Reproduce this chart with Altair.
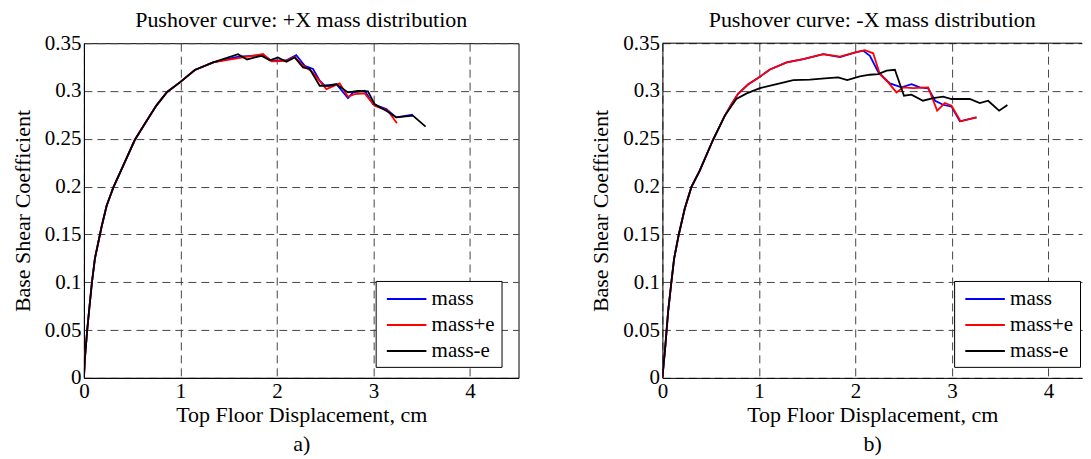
import altair as alt
import pandas as pd

SERIES = ["mass", "mass+e", "mass-e"]
COLORS = ["#0000ff", "#ff0000", "#000000"]
FONT = "Liberation Serif"

# ---- panel a) : +X mass distribution ----
a_mass_x = [0, 0.01, 0.034, 0.055, 0.083, 0.114, 0.183, 0.235, 0.304, 0.407, 0.528, 0.683, 0.752, 0.862,
            0.994, 1.149, 1.339, 1.6, 1.856, 1.943, 2.098, 2.2, 2.288, 2.374, 2.443, 2.495, 2.616, 2.736,
            2.788, 2.909, 2.995, 3.133, 3.236, 3.409]
a_mass_y = [0, 0.020, 0.050, 0.072, 0.100, 0.125, 0.158, 0.180, 0.199, 0.222, 0.249, 0.274, 0.285, 0.299,
            0.309, 0.322, 0.330, 0.336, 0.3375, 0.332, 0.332, 0.3375, 0.3264, 0.323, 0.3107, 0.3055, 0.307,
            0.2926, 0.2985, 0.3003, 0.2863, 0.2811, 0.2724, 0.2752]

a_pe_x = [0, 0.01, 0.034, 0.055, 0.083, 0.114, 0.183, 0.235, 0.304, 0.407, 0.528, 0.683, 0.752, 0.862,
          0.994, 1.149, 1.339, 1.615, 1.856, 1.943, 2.098, 2.184, 2.27, 2.356, 2.512, 2.65, 2.736, 2.805,
          2.909, 3.012, 3.15, 3.243]
a_pe_y = [0, 0.020, 0.050, 0.072, 0.100, 0.125, 0.158, 0.180, 0.199, 0.222, 0.249, 0.274, 0.285, 0.299,
          0.309, 0.322, 0.330, 0.3346, 0.3386, 0.331, 0.3316, 0.3357, 0.3264, 0.321, 0.302, 0.308, 0.294,
          0.2968, 0.2975, 0.2846, 0.2794, 0.2662]

a_me_x = [0, 0.01, 0.034, 0.055, 0.083, 0.114, 0.183, 0.235, 0.304, 0.407, 0.528, 0.683, 0.752, 0.862,
          0.994, 1.149, 1.339, 1.597, 1.69, 1.84, 1.925, 2.01, 2.098, 2.184, 2.27, 2.34, 2.443, 2.547,
          2.616, 2.736, 2.84, 2.943, 3.012, 3.064, 3.133, 3.236, 3.409, 3.54]
a_me_y = [0, 0.020, 0.050, 0.072, 0.100, 0.125, 0.158, 0.180, 0.199, 0.222, 0.249, 0.274, 0.285, 0.299,
          0.309, 0.322, 0.330, 0.3385, 0.333, 0.3368, 0.332, 0.3351, 0.3305, 0.3351, 0.3246, 0.323, 0.3055,
          0.3055, 0.3072, 0.2985, 0.300, 0.2996, 0.2863, 0.2829, 0.2794, 0.2724, 0.2742, 0.2627]

# ---- panel b) : -X mass distribution ----
b_mass_x = [0, 0.031, 0.059, 0.093, 0.121, 0.17, 0.232, 0.30, 0.387, 0.525, 0.646, 0.72, 0.784, 0.89,
            1.011, 1.115, 1.288, 1.46, 1.667, 1.84, 2.0, 2.08, 2.15, 2.236, 2.357, 2.478, 2.581, 2.668,
            2.754, 2.826, 2.909, 2.996, 3.082, 3.255]
b_mass_y = [0, 0.034, 0.069, 0.100, 0.1245, 0.150, 0.177, 0.1994, 0.2167, 0.249, 0.274, 0.287, 0.297,
            0.307, 0.315, 0.3225, 0.330, 0.3333, 0.3386, 0.3355, 0.3403, 0.3422, 0.3368, 0.320, 0.3079,
            0.3038, 0.3072, 0.3038, 0.3028, 0.2898, 0.2856, 0.2836, 0.2683, 0.2724]

b_pe_x = [0, 0.031, 0.059, 0.093, 0.121, 0.17, 0.232, 0.30, 0.387, 0.525, 0.646, 0.72, 0.784, 0.89,
          1.011, 1.115, 1.288, 1.46, 1.667, 1.84, 2.0, 2.098, 2.184, 2.254, 2.339, 2.426, 2.495, 2.598,
          2.754, 2.847, 2.927, 2.996, 3.089, 3.255]
b_pe_y = [0, 0.034, 0.069, 0.100, 0.1245, 0.150, 0.177, 0.1994, 0.2167, 0.249, 0.274, 0.287, 0.297,
          0.307, 0.315, 0.3225, 0.330, 0.3333, 0.3386, 0.336, 0.3403, 0.3427, 0.3394, 0.3176, 0.309,
          0.2985, 0.3038, 0.303, 0.3038, 0.2794, 0.2874, 0.2846, 0.2683, 0.2724]

b_me_x = [0, 0.031, 0.059, 0.093, 0.121, 0.17, 0.232, 0.30, 0.387, 0.525, 0.646, 0.766, 0.874, 1.011,
          1.184, 1.356, 1.529, 1.684, 1.822, 1.915, 2.046, 2.15, 2.236, 2.323, 2.409, 2.503, 2.581, 2.70,
          2.805, 2.909, 2.996, 3.185, 3.289, 3.375, 3.489, 3.575]
b_me_y = [0, 0.034, 0.069, 0.100, 0.1245, 0.150, 0.177, 0.1994, 0.2167, 0.249, 0.274, 0.2916, 0.2975,
          0.303, 0.3072, 0.3114, 0.3118, 0.3132, 0.3142, 0.3114, 0.3152, 0.317, 0.3176, 0.3212, 0.3222,
          0.2951, 0.2961, 0.2898, 0.2926, 0.294, 0.2916, 0.2916, 0.2874, 0.2898, 0.2794, 0.2853]

X_TICKS = [0, 1, 2, 3, 4]
Y_TICKS = [0, 0.05, 0.1, 0.15, 0.2, 0.25, 0.3, 0.35]

PX_PER_UNIT = 96.6   # horizontal scale of both panels
PLOT_H = 335


def make_df(pairs):
    rows = []
    for name, xs, ys in pairs:
        for i, (xv, yv) in enumerate(zip(xs, ys)):
            rows.append({"series": name, "x": xv, "y": yv, "i": i})
    return pd.DataFrame(rows)


def panel(df, title, label, width, open_right):
    xmax = width / PX_PER_UNIT
    color = alt.Color(
        "series:N",
        scale=alt.Scale(domain=SERIES, range=COLORS),
        legend=alt.Legend(
            title=None, orient="none", legendX=292, legendY=238,
            symbolType="M-1.8,0H1.8", symbolSize=484, symbolStrokeWidth=2,
            symbolOffset=13,
            labelFont=FONT, labelFontSize=21, labelColor="black", labelOffset=13,
            padding=6, rowPadding=4, strokeColor="black", fillColor="white",
            cornerRadius=0,
        ),
    )
    x = alt.X(
        "x:Q",
        scale=alt.Scale(domain=[0, xmax], nice=False, zero=False),
        axis=alt.Axis(
            values=X_TICKS, format="d", title=["Top Floor Displacement, cm", label],
            titleLineHeight=29, titlePadding=3,
        ),
    )
    y = alt.Y(
        "y:Q",
        scale=alt.Scale(domain=[0, 0.35], nice=False),
        axis=alt.Axis(values=Y_TICKS, format="~g", title="Base Shear Coefficient",
                      titlePadding=10),
    )
    layers = []
    for s in SERIES:
        layers.append(
            alt.Chart(df)
            .transform_filter(alt.datum.series == s)
            .mark_line(strokeWidth=1.8, clip=True)
            .encode(x=x, y=y, color=color, order="i:Q")
        )
    props = dict(
        width=width, height=PLOT_H,
        title=alt.TitleParams(title, font=FONT, fontSize=22, fontWeight="normal",
                              anchor="middle", frame="group", offset=0, color="black"),
    )
    if open_right:
        # the reference's right panel runs off the page: draw only the top edge of the box
        top_edge = alt.Chart(pd.DataFrame({"edge": [0]})).mark_rule(
            color="black", strokeWidth=1
        ).encode(x=alt.value(0), x2=alt.value(width), y=alt.value(0))
        layers.append(top_edge)
        props["view"] = alt.ViewConfig(strokeWidth=0)
    return alt.layer(*layers).properties(**props)


df_a = make_df([("mass", a_mass_x, a_mass_y), ("mass+e", a_pe_x, a_pe_y), ("mass-e", a_me_x, a_me_y)])
df_b = make_df([("mass", b_mass_x, b_mass_y), ("mass+e", b_pe_x, b_pe_y), ("mass-e", b_me_x, b_me_y)])

chart = (
    alt.hconcat(
        panel(df_a, "Pushover curve: +X mass distribution", "a)", 435, False),
        panel(df_b, "Pushover curve: -X mass distribution", "b)", 420, True),
        spacing=70,
    )
    .resolve_scale(color="independent")
    .resolve_legend(color="independent")
    .properties(padding={"left": 2, "top": 0, "right": 0, "bottom": 0}, background="white")
    .configure_view(stroke="black", strokeWidth=1)
    .configure_axis(
        grid=True, gridDash=[8, 5], gridColor="#444444", gridWidth=1, gridOpacity=1,
        ticks=False, tickSize=0, domainColor="black", domainWidth=1,
        labelFont=FONT, labelFontSize=21, labelColor="black", labelPadding=3,
        labelFlush=False, labelOverlap=False,
        titleFont=FONT, titleFontSize=22, titleFontWeight="normal", titleColor="black",
    )
)

chart.save("out.html", embed_options={"renderer": "svg", "actions": False})
